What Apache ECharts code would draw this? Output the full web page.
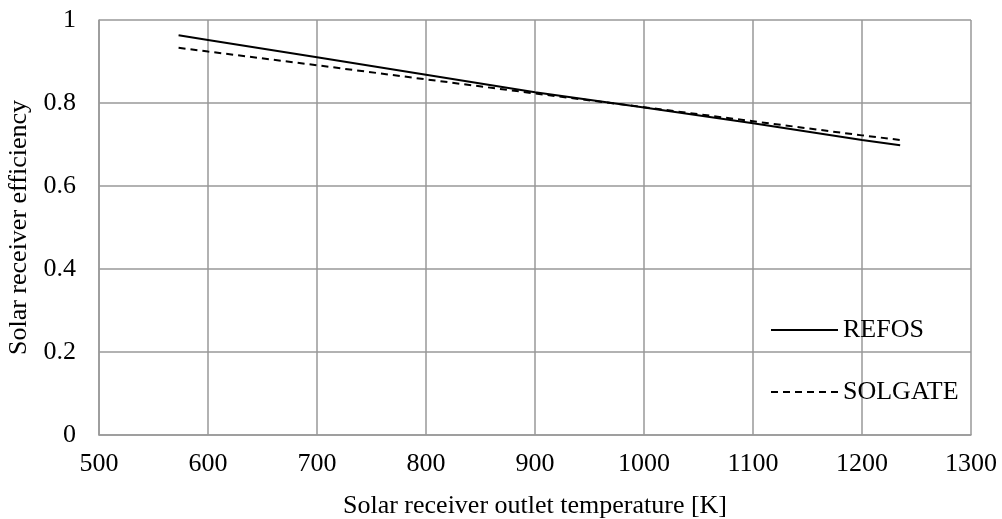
<!DOCTYPE html>
<html>
<head>
<meta charset="utf-8">
<script src="https://cdn.jsdelivr.net/npm/echarts@6/dist/echarts.min.js"></script>
<style>
  html, body { margin: 0; padding: 0; background: #fff; }
</style>
</head>
<body>
<div id="echart" style="width: 1002px; height: 519px;"></div>
<script>
// temperatures [K]
const temps = [573, 600, 700, 800, 900, 1000, 1100, 1200, 1235];
const refos = [0.963, 0.952, 0.910, 0.868, 0.826, 0.789, 0.751, 0.711, 0.698];
const solgate = [0.933, 0.924, 0.891, 0.857, 0.823, 0.790, 0.756, 0.722, 0.711];

const font = 'Liberation Serif';
const fontSize = 26;
const gridColor = '#999999';

const pairs = (ys) => temps.map((t, i) => [t, ys[i]]);

const myChart = echarts.init(document.getElementById('echart'));

myChart.setOption({
  animation: false,
  textStyle: { fontFamily: font, color: '#000' },
  grid: {
    left: 99,
    right: 31,
    top: 20,
    bottom: 84,
    outerBoundsMode: 'none',
  },
  legend: {
    orient: 'vertical',
    left: 770,
    top: 317,
    padding: 0,
    itemWidth: 67,
    itemHeight: 14,
    itemGap: 36,
    itemTextGap: 6,
    itemStyle: { opacity: 0 },
    textStyle: { fontFamily: font, fontSize: fontSize, color: '#000' },
    data: ['REFOS', 'SOLGATE'],
  },
  xAxis: {
    type: 'value',
    min: 500,
    max: 1300,
    interval: 100,
    name: 'Solar receiver outlet temperature [K]',
    nameLocation: 'middle',
    nameGap: 58,
    nameTextStyle: { fontFamily: font, fontSize: fontSize, color: '#000' },
    axisLine: { show: true, lineStyle: { color: gridColor, width: 1.5 } },
    axisTick: { show: false },
    axisLabel: {
      fontFamily: font,
      fontSize: fontSize,
      color: '#000',
      margin: 16,
      formatter: (v) => String(v),
    },
    splitLine: { show: true, lineStyle: { color: gridColor, width: 1.5 } },
  },
  yAxis: {
    type: 'value',
    min: 0,
    max: 1,
    interval: 0.2,
    name: 'Solar receiver efficiency',
    nameLocation: 'middle',
    nameGap: 67,
    nameTextStyle: { fontFamily: font, fontSize: fontSize, color: '#000' },
    axisLine: { show: true, lineStyle: { color: gridColor, width: 1.5 } },
    axisTick: { show: false },
    axisLabel: { fontFamily: font, fontSize: fontSize, color: '#000', margin: 23 },
    splitLine: { show: true, lineStyle: { color: gridColor, width: 1.5 } },
  },
  series: [
    {
      name: 'REFOS',
      type: 'line',
      data: pairs(refos),
      symbol: 'none',
      lineStyle: { color: '#000', width: 2, type: 'solid' },
      itemStyle: { color: '#000' },
    },
    {
      name: 'SOLGATE',
      type: 'line',
      data: pairs(solgate),
      symbol: 'none',
      lineStyle: { color: '#000', width: 2, type: [7, 5] },
      itemStyle: { color: '#000' },
    },
  ],
});
</script>
</body>
</html>
